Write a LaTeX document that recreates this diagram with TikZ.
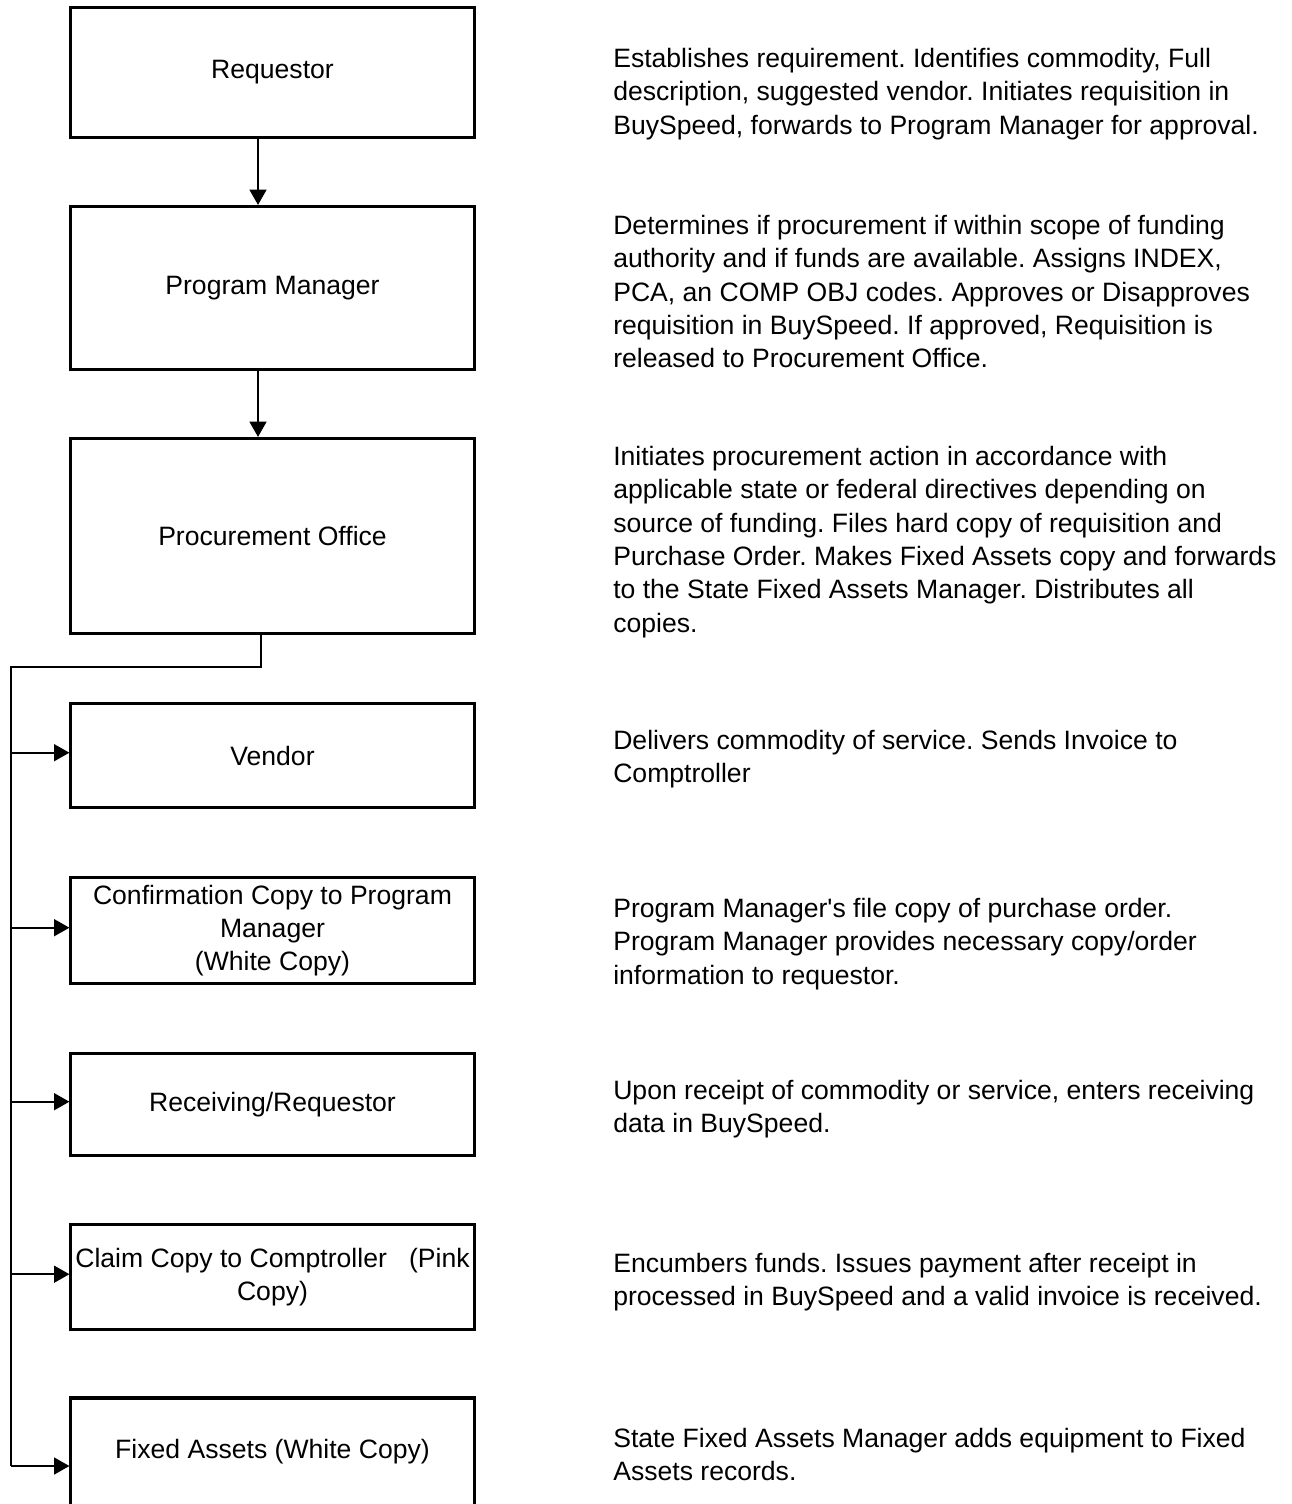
\documentclass[tikz,border=0pt]{standalone}
\usepackage{fontspec}
\setmainfont{Liberation Sans}
\usetikzlibrary{arrows.meta}
\frenchspacing

\tikzset{
  stage/.style={draw, line width=2.2pt, rectangle, minimum width=10.075cm, inner sep=2pt, align=center},
  note/.style={anchor=north west, inner sep=0pt, align=left},
  link/.style={line width=1.2pt},
  feed/.style={link, -{Triangle[length=0.38cm, width=0.42cm]}}
}

\begin{document}
\begin{tikzpicture}[x=0.025cm, y=-0.025cm, font=\fontsize{18.9}{23.7}\selectfont]
  \useasboundingbox (0,0) rectangle (1291,1504);
  % Boxes on the left
  \node[stage, minimum height=3.25cm] (req) at (272.5,72.5) {Requestor};
  \node[stage, minimum height=4.075cm] (pm) at (272.5,288) {Program Manager};
  \node[stage, minimum height=4.875cm] (proc) at (272.5,536) {Procurement Office};
  \node[stage, minimum height=2.6cm] (vendor) at (272.5,755.5) {Vendor};
  \node[stage, minimum height=2.65cm] (conf) at (272.5,930.5) {Confirmation Copy to Program\\Manager\\(White Copy)};
  \node[stage, minimum height=2.55cm] (recv) at (272.5,1104.5) {Receiving/Requestor};
  \node[stage, minimum height=2.625cm] (claim) at (272.5,1277) {Claim Copy to Comptroller\ \ \ (Pink\\Copy)};
  \node[stage, minimum height=2.7cm] (fixed) at (272.5,1452) {Fixed Assets (White Copy)};
  % Descriptions on the right
  \node[note] (reqnote) at (613,48) {Establishes requirement. Identifies commodity, Full\\description, suggested vendor. Initiates requisition in\\BuySpeed, forwards to Program Manager for approval.};
  \node[note] (pmnote) at (613,215) {Determines if procurement if within scope of funding\\authority and if funds are available. Assigns INDEX,\\PCA, an COMP OBJ codes. Approves or Disapproves\\requisition in BuySpeed. If approved, Requisition is\\released to Procurement Office.};
  \node[note] (procnote) at (613,446) {Initiates procurement action in accordance with\\applicable state or federal directives depending on\\source of funding. Files hard copy of requisition and\\Purchase Order. Makes Fixed Assets copy and forwards\\to the State Fixed Assets Manager. Distributes all\\copies.};
  \node[note] (vendornote) at (613,730) {Delivers commodity of service. Sends Invoice to\\Comptroller};
  \node[note] (confnote) at (613,898) {Program Manager\textquotesingle s file copy of purchase order.\\Program Manager provides necessary copy/order\\information to requestor.};
  \node[note] (recvnote) at (613,1080) {Upon receipt of commodity or service, enters receiving\\data in BuySpeed.};
  \node[note] (claimnote) at (613,1253) {Encumbers funds. Issues payment after receipt in\\processed in BuySpeed and a valid invoice is received.};
  \node[note] (fixednote) at (613,1428) {State Fixed Assets Manager adds equipment to Fixed\\Assets records.};
  % Connectors
  \coordinate (axis) at (258,0);
  \coordinate (drop) at (261,0);
  \coordinate (bus) at (11,667);
  \coordinate (busend) at (11,1466);
  \draw[feed] (req.south -| axis) -- (pm.north -| axis);
  \draw[feed] (pm.south -| axis) -- (proc.north -| axis);
  \draw[link] (proc.south -| drop) |- (bus) -- (busend);
  \foreach \n in {vendor,conf,recv,claim}
    \draw[feed] ([yshift=0.07cm]bus |- \n.west) -- ([yshift=0.07cm]\n.west);
  \draw[feed] (busend) -- (busend -| fixed.west);
\end{tikzpicture}
\end{document}
